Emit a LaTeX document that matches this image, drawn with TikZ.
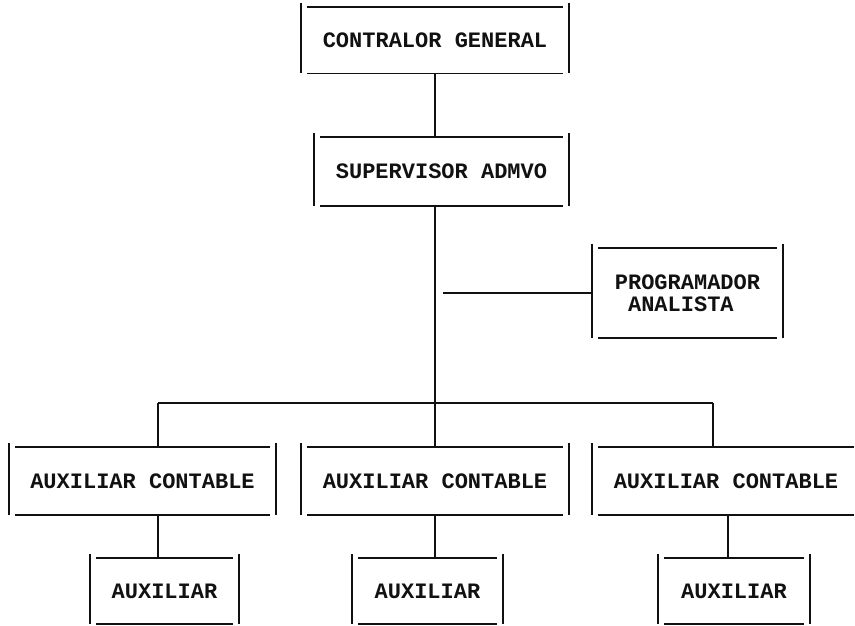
\documentclass[tikz,border=0pt]{standalone}
\usepackage{fontspec}
\setmonofont{Liberation Mono}
\usepackage{tikz}
\usetikzlibrary{positioning,calc}
\definecolor{ink}{HTML}{111111}

\begin{document}
\begin{tikzpicture}[x=1pt, y=-1pt,
  line width=1.8pt, line cap=butt,
  puesto/.style={font=\fontsize{22}{22}\selectfont\ttfamily\bfseries, text=ink,
                 inner sep=0pt, align=center},
  linea/.style={draw=ink, line width=1.8pt}]

\useasboundingbox (0,0) rectangle (855,625);

\def\xl{158}    % bus, left drop
\def\xm{435}    % trunk
\def\xr{713}    % bus, right drop
\def\yb{403}    % bus height

% ---------------------------------------------------------------- boxes
\node[puesto, minimum width=266, minimum height=65] (cg)  at (435,40)    {CONTRALOR GENERAL};
\node[puesto, minimum width=253, minimum height=67] (sa)  at (441.5,171.5) {SUPERVISOR ADMVO};
\node[puesto, minimum width=189, minimum height=88, align=left] (pa) at (687.5,293)
  {PROGRAMADOR\\\phantom{P}ANALISTA};
\node[puesto, minimum width=265, minimum height=66] (ac1) at (142.5,481) {AUXILIAR CONTABLE};
\node[puesto, minimum width=266, minimum height=66] (ac2) at (435,481)   {AUXILIAR CONTABLE};
\node[puesto, minimum width=266, minimum height=66] (ac3) at (726,481)   {AUXILIAR CONTABLE};
\node[puesto, minimum width=147, minimum height=64] (au1) at (164.5,591) {AUXILIAR};
\node[puesto, minimum width=149, minimum height=64] (au2) at (427.5,591) {AUXILIAR};
\node[puesto, minimum width=150, minimum height=64] (au3) at (734,591)   {AUXILIAR};

% typed frames: loose corners
\foreach \n in {cg,sa,pa,ac1,ac2,ac3,au1,au2,au3} {
  \draw[linea] ([xshift=6]\n.north west) -- ([xshift=-6]\n.north east);
  \draw[linea] ([xshift=6]\n.south west) -- ([xshift=-6]\n.south east);
  \draw[linea] ([yshift=4]\n.north west) -- (\n.south west);
  \draw[linea] ([yshift=4]\n.north east) -- (\n.south east);
}

% ---------------------------------------------------------------- connectors
\coordinate (busl) at (\xl,\yb);
\coordinate (busr) at (\xr,\yb);

\draw[linea] (cg.south) -- (cg.south |- sa.north);
\draw[linea] (ac2.north |- sa.south) -- (ac2.north);
\draw[linea] ([xshift=8]pa.west -| ac2.north) -- (pa.west);
\draw[linea] (busl) -- (busr);
\draw[linea] (busl) -- (busl |- ac1.north);
\draw[linea] (busr) -- (busr |- ac3.north);

\draw[linea] (busl |- ac1.south) -- (busl |- au1.north);
\draw[linea] (ac2.south) -- (ac2.south |- au2.north);
\draw[linea] ([xshift=2]ac3.south) -- ([xshift=2]ac3.south |- au3.north);

\end{tikzpicture}
\end{document}
